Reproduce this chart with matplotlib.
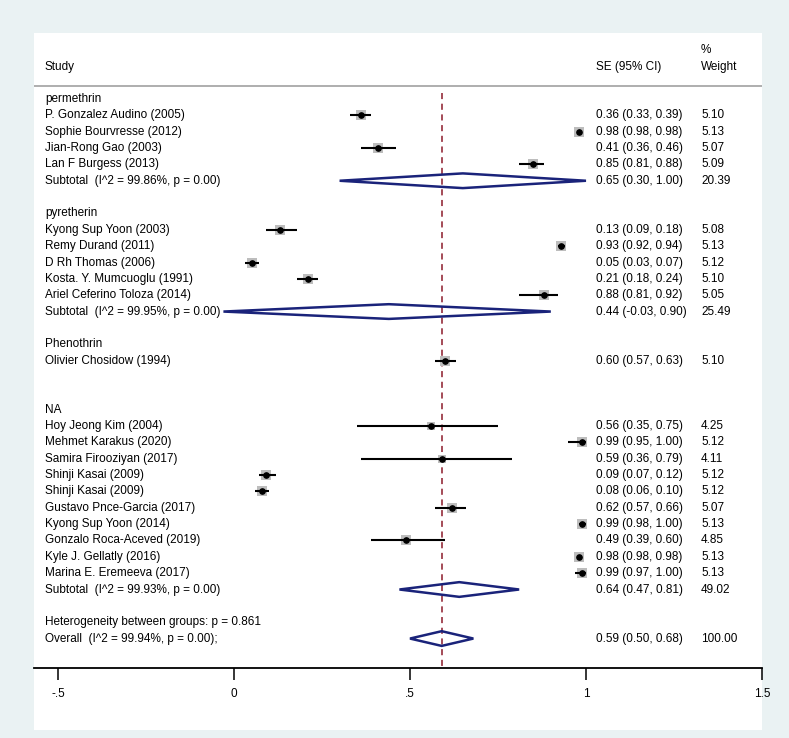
import matplotlib
matplotlib.use("Agg")
import numpy as np
import matplotlib.pyplot as plt
from matplotlib.patches import Rectangle, Polygon

plt.rcParams['font.family'] = ['Liberation Sans', 'DejaVu Sans']

# groups, study names, estimates, CI and weights
groups = ["permethrin", "pyretherin", "Phenothrin", "NA"]
studies = [
    ["P. Gonzalez Audino (2005)", "Sophie Bourvresse (2012)", "Jian-Rong Gao (2003)", "Lan F Burgess (2013)"],
    ["Kyong Sup Yoon (2003)", "Remy Durand (2011)", "D Rh Thomas (2006)", "Kosta. Y. Mumcuoglu (1991)",
     "Ariel Ceferino Toloza (2014)"],
    ["Olivier Chosidow (1994)"],
    ["Hoy Jeong Kim (2004)", "Mehmet Karakus (2020)", "Samira Firooziyan (2017)", "Shinji Kasai (2009)",
     "Shinji Kasai (2009)", "Gustavo Pnce-Garcia (2017)", "Kyong Sup Yoon (2014)", "Gonzalo Roca-Aceved (2019)",
     "Kyle J. Gellatly (2016)", "Marina E. Eremeeva (2017)"],
]
est = [
    [0.36, 0.98, 0.41, 0.85],
    [0.13, 0.93, 0.05, 0.21, 0.88],
    [0.60],
    [0.56, 0.99, 0.59, 0.09, 0.08, 0.62, 0.99, 0.49, 0.98, 0.99],
]
lo = [
    [0.33, 0.98, 0.36, 0.81],
    [0.09, 0.92, 0.03, 0.18, 0.81],
    [0.57],
    [0.35, 0.95, 0.36, 0.07, 0.06, 0.57, 0.98, 0.39, 0.98, 0.97],
]
hi = [
    [0.39, 0.98, 0.46, 0.88],
    [0.18, 0.94, 0.07, 0.24, 0.92],
    [0.63],
    [0.75, 1.00, 0.79, 0.12, 0.10, 0.66, 1.00, 0.60, 0.98, 1.00],
]
weights = [
    [5.10, 5.13, 5.07, 5.09],
    [5.08, 5.13, 5.12, 5.10, 5.05],
    [5.10],
    [4.25, 5.12, 4.11, 5.12, 5.12, 5.07, 5.13, 4.85, 5.13, 5.13],
]
# subtotals (None for single-study group)
sub_est = [0.65, 0.44, None, 0.64]
sub_lo = [0.30, -0.03, None, 0.47]
sub_hi = [1.00, 0.90, None, 0.81]
sub_w = [20.39, 25.49, None, 49.02]
sub_i2 = ["99.86%", "99.95%", None, "99.93%"]
het_p = "0.861"
overall = (0.59, 0.50, 0.68)
overall_i2 = "99.94%"
xticks = [-0.5, 0, 0.5, 1, 1.5]
xticklabels = ["-.5", "0", ".5", "1", "1.5"]

W, H = 789, 738
fig = plt.figure(figsize=(W / 100, H / 100), dpi=100)
fig.patch.set_facecolor("#eaf2f3")
# white plot region
fig.patches.append(Rectangle((34 / W, 1 - 730 / H), (762 - 34) / W, (730 - 33) / H,
                             transform=fig.transFigure, facecolor="white", edgecolor="none", zorder=-5))

ax = fig.add_axes([34 / W, 1 - 668 / H, (762 - 34) / W, (668 - 33) / H])
ax.set_zorder(5)
ax.set_facecolor("none")
ax.set_xlim((34 - 234) / 352, 1.5)
row_px = 16.35
ax.set_ylim((668 - 99) / row_px, (33 - 99) / row_px)
for s in ["top", "left", "right"]:
    ax.spines[s].set_visible(False)
ax.spines["bottom"].set_linewidth(1.3)
ax.set_yticks([])
ax.set_xticks(xticks)
ax.set_xticklabels(xticklabels)
ax.tick_params(axis="x", direction="out", length=8.5, width=1.1, pad=6, labelsize=8.5)

fs = 8.5
xs_name = (45 - 234) / 352
xs_ci = (596 - 234) / 352
xs_w = (701 - 234) / 352
navy = "#1a237a"

# header
ax.text(xs_name, -1.96, "Study", fontsize=fs, va="center")
ax.text(xs_ci, -1.96, "SE (95% CI)", fontsize=fs, va="center")
ax.text(xs_w, -1.96, "Weight", fontsize=fs, va="center")
ax.text(xs_w, -3.0, "%", fontsize=fs, va="center")
ax.axhline(-0.8, color="#a8a8a8", lw=1.3)

# reference line at overall estimate
ax.plot([overall[0], overall[0]], [-0.37, 40], color="#8b1a2a", lw=1.1, ls=(0, (4, 3)), zorder=1)


def diamond(y, c, l, h):
    ax.add_patch(Polygon([[l, y], [c, y - 0.45], [h, y], [c, y + 0.45]], closed=True,
                         fill=False, edgecolor=navy, lw=1.8, zorder=3))


row = 0
for g in range(len(groups)):
    ax.text(xs_name, row, groups[g], fontsize=fs, va="center")
    row += 1
    for k in range(len(studies[g])):
        ax.text(xs_name, row, studies[g][k], fontsize=fs, va="center")
        e, l, h, w = est[g][k], lo[g][k], hi[g][k], weights[g][k]
        side = 9.5 * np.sqrt(w / 5.13) * 0.72  # square side in points, area ~ weight
        ax.scatter([e], [row], marker="s", s=side ** 2, color="#bdbdbd", zorder=2, linewidths=0)
        ax.plot([l, h], [row, row], color="black", lw=1.5, zorder=3, solid_capstyle="butt")
        ax.plot([e], [row], "o", color="black", ms=3.8, zorder=4)
        ax.text(xs_ci, row, "%.2f (%.2f, %.2f)" % (e, l, h), fontsize=fs, va="center")
        ax.text(xs_w, row, "%.2f" % w, fontsize=fs, va="center")
        row += 1
    if sub_est[g] is not None:
        ax.text(xs_name, row, "Subtotal  (I^2 = %s, p = 0.00)" % sub_i2[g], fontsize=fs, va="center")
        diamond(row, sub_est[g], sub_lo[g], sub_hi[g])
        ax.text(xs_ci, row, "%.2f (%.2f, %.2f)" % (sub_est[g], sub_lo[g], sub_hi[g]), fontsize=fs, va="center")
        ax.text(xs_w, row, "%.2f" % sub_w[g], fontsize=fs, va="center")
        row += 2
    else:
        row += 2

ax.text(xs_name, row, "Heterogeneity between groups: p = " + het_p, fontsize=fs, va="center")
row += 1
ax.text(xs_name, row, "Overall  (I^2 = %s, p = 0.00);" % overall_i2, fontsize=fs, va="center")
diamond(row, *overall)
ax.text(xs_ci, row, "%.2f (%.2f, %.2f)" % overall, fontsize=fs, va="center")
ax.text(xs_w, row, "100.00", fontsize=fs, va="center")

fig.savefig("out.png", dpi=100, facecolor=fig.get_facecolor())
